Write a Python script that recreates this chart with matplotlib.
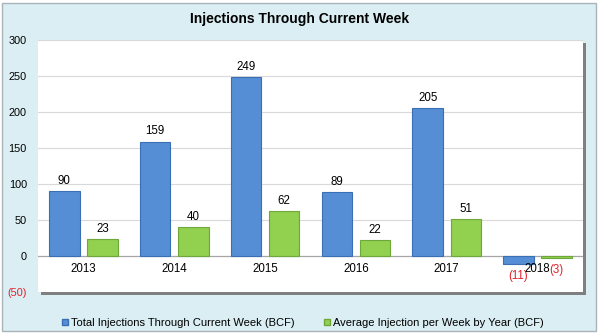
import matplotlib
matplotlib.use("Agg")
import matplotlib.pyplot as plt
from matplotlib.patches import Rectangle, Patch

plt.rcParams['font.family'] = ['Liberation Sans', 'DejaVu Sans']

# data
years = ['2013', '2014', '2015', '2016', '2017', '2018']
total_inj = [90, 159, 249, 89, 205, -11]
avg_inj = [23, 40, 62, 22, 51, -3]
yticks = [-50, 0, 50, 100, 150, 200, 250, 300]

blue = '#558ED5'
green = '#92D050'
bg = '#DAEEF3'

fig = plt.figure(figsize=(6, 3.34), dpi=100)
fig.patch.set_facecolor('white')

# light blue panel with grey border
W, H = 600, 334
fig.patches.append(Rectangle((2 / W, 3 / H), 594 / W, 328 / H, transform=fig.transFigure,
                             facecolor=bg, edgecolor='#A9B4B8', linewidth=1, zorder=0))

left, right, top, bottom = 38, 583, 40, 292
ax_rect = [left / W, 1 - bottom / H, (right - left) / W, (bottom - top) / H]

# drop shadow behind plot area
fig.patches.append(Rectangle((ax_rect[0] + 3 / W, ax_rect[1] - 3 / H), ax_rect[2], ax_rect[3],
                             transform=fig.transFigure, facecolor='#7F7F7F',
                             edgecolor='none', zorder=1))

ax = fig.add_axes(ax_rect)
ax.set_facecolor('white')
ax.set_zorder(2)

x = list(range(len(years)))
bw = 0.335
off = 0.21
xb = [i - off for i in x]
xg = [i + off for i in x]
ax.bar(xb, total_inj, width=bw, color=blue, edgecolor='#3A6FB5', linewidth=0.8, zorder=3)
ax.bar(xg, avg_inj, width=bw, color=green, edgecolor='#6FA83A', linewidth=0.8, zorder=3)

ax.set_xlim(-0.5, len(years) - 0.5)
ax.set_ylim(-50, 300)
ax.set_yticks(yticks)
ax.set_yticklabels(['(50)' if v < 0 else str(v) for v in yticks])
ax.get_yticklabels()[0].set_color('#E0202A')
ax.tick_params(axis='y', length=0, pad=8, labelsize=7.8)
ax.set_xticks([])
for s in ax.spines.values():
    s.set_visible(False)
for v in yticks[2:]:
    ax.axhline(v, color='#D9D9D9', linewidth=0.8, zorder=1)
ax.axhline(0, color='#A6A6A6', linewidth=0.9, zorder=2)

# value labels
for xs, vals in ((xb, total_inj), (xg, avg_inj)):
    for xi, v in zip(xs, vals):
        if v >= 0:
            ax.annotate(str(v), (xi, v), xytext=(0, 3), textcoords='offset points',
                        ha='center', va='bottom', fontsize=8.3, zorder=5)
        else:
            ax.annotate('(%d)' % abs(v), (xi, v), xytext=(0, -4.5), textcoords='offset points',
                        ha='center', va='top', fontsize=8.3, color='#E0202A', zorder=5)

# category labels just below the zero line
for xi, yr in zip(x, years):
    ax.annotate(yr, (xi, 0), xytext=(0, -9.5), textcoords='offset points',
                ha='center', va='center', fontsize=8.3, zorder=6)

fig.text(0.5, 1 - 19 / H, 'Injections Through Current Week', ha='center', va='center',
         fontsize=10, fontweight='bold')

handles = [Patch(facecolor=blue, edgecolor='#3A6FB5', label='Total Injections Through Current Week (BCF)'),
           Patch(facecolor=green, edgecolor='#6FA83A', label='Average Injection per Week by Year (BCF)')]
fig.legend(handles=handles, loc='center', bbox_to_anchor=(0.505, 11 / H), ncol=2,
           frameon=False, fontsize=8, handlelength=0.55, handleheight=0.55,
           handletextpad=0.3, columnspacing=2.6)

fig.savefig('out.png', dpi=100, facecolor=fig.get_facecolor())
